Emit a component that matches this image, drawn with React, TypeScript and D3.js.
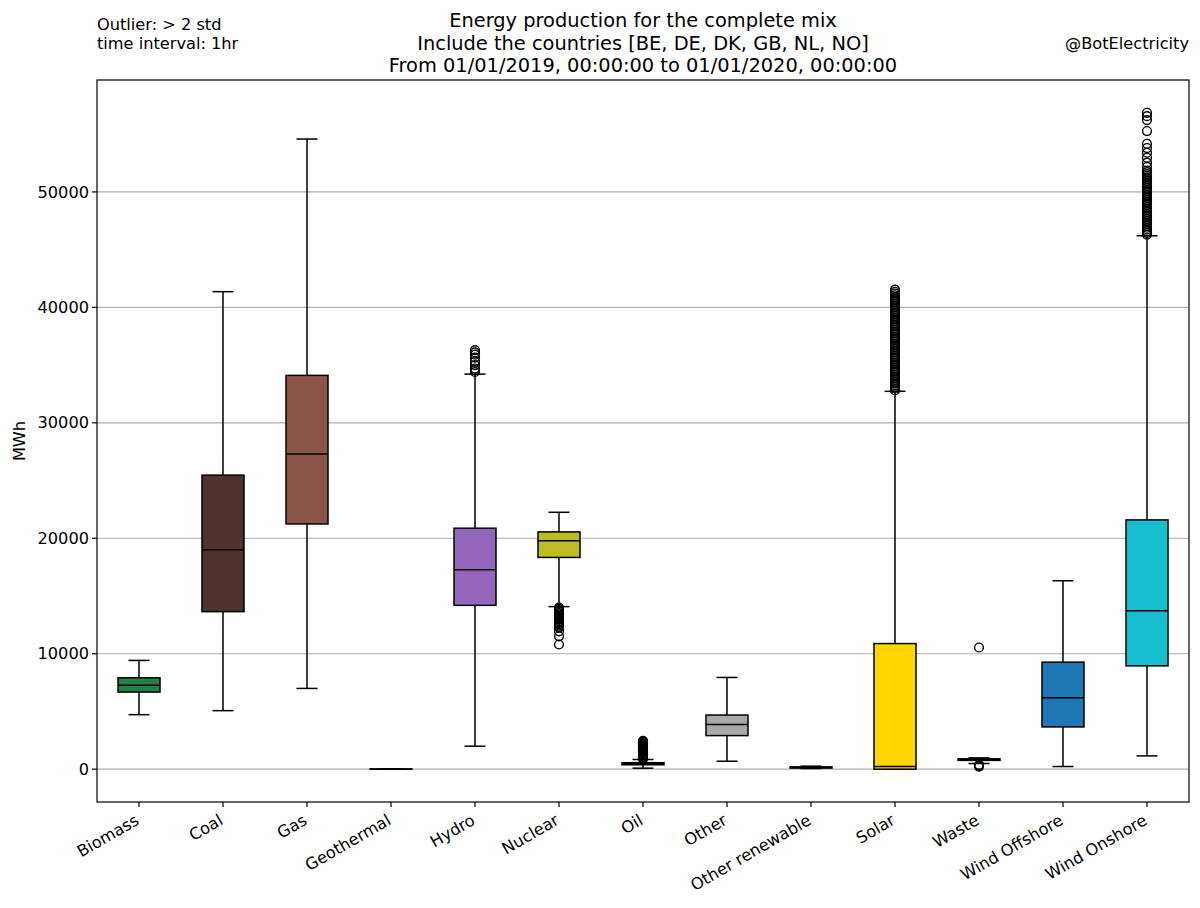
import React from "react";
import * as d3 from "d3";

const categories = ["Biomass", "Coal", "Gas", "Geothermal", "Hydro", "Nuclear", "Oil", "Other", "Other renewable", "Solar", "Waste", "Wind Offshore", "Wind Onshore"];
const whiskerLow = [4720, 5070, 6995, 0, 1990, 14080, 86, 690, 60, 0, 490, 230, 1150];
const q1 = [6680, 13644, 21240, 0, 14190, 18340, 380, 2910, 100, 0, 760, 3660, 8950];
const median = [7280, 19000, 27290, 5, 17270, 19780, 470, 3860, 150, 230, 830, 6190, 13730];
const q3 = [7920, 25470, 34110, 10, 20870, 20550, 560, 4690, 200, 10880, 900, 9270, 21590];
const whiskerHigh = [9420, 41360, 54580, 20, 34220, 22250, 840, 7945, 260, 32730, 980, 16320, 46200];
const boxColors = ["#268049", "#4f3330", "#8b5549", "#b22222", "#9467bd", "#bcbd22", "#111111", "#a9a9a9", "#3cb371", "#ffd700", "#7f7f7f", "#1f77b4", "#17becf"];

const outliersHydro = [34400, 34550, 34700, 35000, 35300, 35650, 35900, 36100, 36300];
const outliersNuclear = [14000, 13880, 13760, 13640, 13520, 13400, 13280, 13160, 13040, 12920, 12800, 12680, 12560, 12440, 12320, 12260, 11940, 11510, 10800];
const outliersOil = [900, 980, 1060, 1140, 1220, 1300, 1380, 1460, 1540, 1620, 1700, 1780, 1860, 1940, 2020, 2100, 2180, 2260, 2340, 2400, 2460];
const outliersSolar = [32800, 32950, 33100, 33250, 33400, 33550, 33700, 33850, 34000, 34150, 34300, 34450, 34600, 34750, 34900, 35050, 35200, 35350, 35500, 35650, 35800, 35950, 36100, 36250, 36400, 36550, 36700, 36850, 37000, 37150, 37300, 37450, 37600, 37750, 37900, 38050, 38200, 38350, 38500, 38650, 38800, 38950, 39100, 39250, 39400, 39550, 39700, 39850, 40000, 40150, 40300, 40450, 40600, 40750, 40900, 41050, 41200, 41350, 41530];
const outliersWaste = [230, 300, 380, 10540];
const outliersWindOnshore = [46300, 46450, 46600, 46750, 46900, 47050, 47200, 47350, 47500, 47650, 47800, 47950, 48100, 48250, 48400, 48550, 48700, 48850, 49000, 49150, 49300, 49450, 49600, 49750, 49900, 50050, 50200, 50350, 50500, 50650, 50800, 50950, 51100, 51250, 51400, 51550, 51700, 51850, 52160, 52530, 52960, 53390, 53800, 54170, 55270, 56220, 56560, 56850];
const yTicks = [0, 10000, 20000, 30000, 40000, 50000];

const outlierMap: Record<string, number[]> = {
  Hydro: outliersHydro,
  Nuclear: outliersNuclear,
  Oil: outliersOil,
  Solar: outliersSolar,
  Waste: outliersWaste,
  "Wind Onshore": outliersWindOnshore,
};

const W = 1200, H = 908;
const L = 97, R = 1189, T = 80, B = 802;
const FONT = "DejaVu Sans, sans-serif";
const FS = 16.2;
const FT = 19.4;

export default function App() {
  const n = categories.length;
  const x = d3.scaleLinear().domain([0.5, n + 0.5]).range([L, R]);
  const allVals = [...whiskerLow, ...whiskerHigh, ...Object.values(outlierMap).flat()];
  const lo = d3.min(allVals)!, hi = d3.max(allVals)!;
  const pad = (hi - lo) * 0.05;
  const y = d3.scaleLinear().domain([lo - pad, hi + pad]).range([B, T]);
  const step = x(2) - x(1);
  const bw = step * 0.5;
  const cw = step * 0.25;
  const lw = 1.5;

  return (
    <svg width={W} height={H} style={{ position: "absolute", left: 0, top: 0, background: "#fff" }} fontFamily={FONT}>
      <rect x={0} y={0} width={W} height={H} fill="#fff" />
      {yTicks.map((t) => (
        <line key={"g" + t} x1={L} x2={R} y1={y(t)} y2={y(t)} stroke="#b0b0b0" strokeWidth={1.2} />
      ))}
      {categories.map((c, i) => {
        const cx = x(i + 1);
        const outs = outlierMap[c] || [];
        return (
          <g key={c}>
            <line x1={cx} x2={cx} y1={y(q3[i])} y2={y(whiskerHigh[i])} stroke="#000" strokeWidth={lw} />
            <line x1={cx} x2={cx} y1={y(q1[i])} y2={y(whiskerLow[i])} stroke="#000" strokeWidth={lw} />
            <line x1={cx - cw / 2} x2={cx + cw / 2} y1={y(whiskerHigh[i])} y2={y(whiskerHigh[i])} stroke="#000" strokeWidth={lw} />
            <line x1={cx - cw / 2} x2={cx + cw / 2} y1={y(whiskerLow[i])} y2={y(whiskerLow[i])} stroke="#000" strokeWidth={lw} />
            <rect x={cx - bw / 2} width={bw} y={y(q3[i])} height={Math.max(0, y(q1[i]) - y(q3[i]))} fill={boxColors[i]} stroke="#000" strokeWidth={lw} />
            <line x1={cx - bw / 2} x2={cx + bw / 2} y1={y(median[i])} y2={y(median[i])} stroke="#000" strokeWidth={lw} />
            {outs.map((v, k) => (
              <circle key={k} cx={cx} cy={y(v)} r={4.4} fill="none" stroke="#000" strokeWidth={1.4} />
            ))}
          </g>
        );
      })}
      <rect x={L} y={T} width={R - L} height={B - T} fill="none" stroke="#000" strokeWidth={1.2} />
      {yTicks.map((t) => (
        <g key={"yt" + t}>
          <line x1={L - 5} x2={L} y1={y(t)} y2={y(t)} stroke="#000" strokeWidth={1.2} />
          <text x={L - 8} y={y(t)} dy="0.35em" textAnchor="end" fontSize={FS}>{t}</text>
        </g>
      ))}
      {categories.map((c, i) => {
        const cx = x(i + 1);
        return (
          <g key={"xt" + c}>
            <line x1={cx} x2={cx} y1={B} y2={B + 5} stroke="#000" strokeWidth={1.2} />
            <text transform={`translate(${cx - 5},${B + 11}) rotate(-30)`} textAnchor="end" dy="0.75em" fontSize={FS}>{c}</text>
          </g>
        );
      })}
      <text transform={`translate(25,${(T + B) / 2}) rotate(-90)`} textAnchor="middle" fontSize={FS}>MWh</text>
      <text textAnchor="middle" fontSize={FT}>
        <tspan x={(L + R) / 2} y={27}>Energy production for the complete mix</tspan>
        <tspan x={(L + R) / 2} y={50}>Include the countries [BE, DE, DK, GB, NL, NO]</tspan>
        <tspan x={(L + R) / 2} y={72}>From 01/01/2019, 00:00:00 to 01/01/2020, 00:00:00</tspan>
      </text>
      <text fontSize={FS}>
        <tspan x={L} y={30}>Outlier: &gt; 2 std</tspan>
        <tspan x={L} y={49}>time interval: 1hr</tspan>
      </text>
      <text x={R} y={49} textAnchor="end" fontSize={FS}>@BotElectricity</text>
    </svg>
  );
}
